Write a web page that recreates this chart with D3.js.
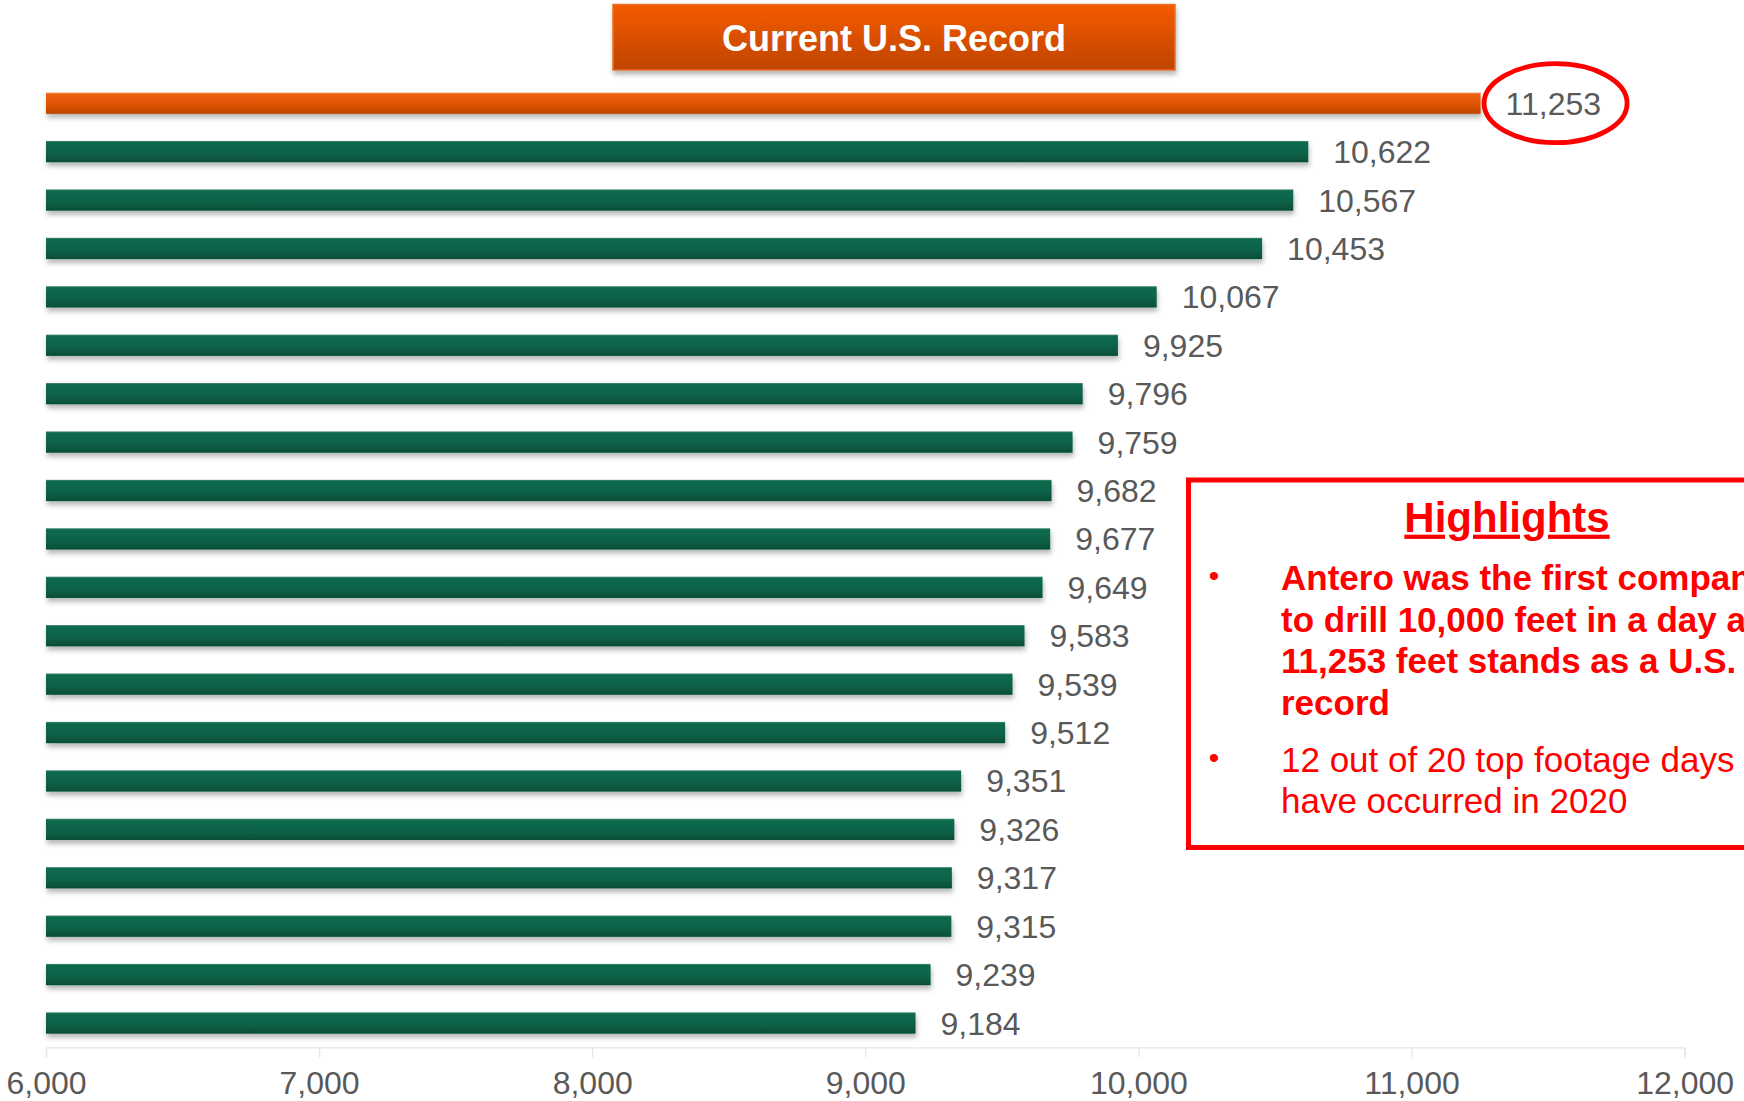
<!DOCTYPE html>
<html>
<head>
<meta charset="utf-8">
<script src="https://cdn.jsdelivr.net/npm/d3@7"></script>
<style>
  body { margin: 0; background: #fff; }
  svg { display: block; }
</style>
</head>
<body>
<script>
var w = 1744;
var h = 1101;

// top 20 footage days, highest first
var ranks = ["1", "2", "3", "4", "5", "6", "7", "8", "9", "10",
             "11", "12", "13", "14", "15", "16", "17", "18", "19", "20"];
var footage = [11253, 10622, 10567, 10453, 10067, 9925, 9796, 9759, 9682, 9677,
               9649, 9583, 9539, 9512, 9351, 9326, 9317, 9315, 9239, 9184];
var xTicks = [6000, 7000, 8000, 9000, 10000, 11000, 12000];

var titleText = "Current U.S. Record";
var boxTitle = "Highlights";
var boldLines = ["Antero was the first company", "to drill 10,000 feet in a day and",
                 "11,253 feet stands as a U.S.", "record"];
var plainLines = ["12 out of 20 top footage days", "have occurred in 2020"];

var xScale = d3.scaleLinear().domain([6000, 12000]).range([46, 1684.6]);
var yScale = d3.scaleBand().domain(ranks).range([79, 1047.2])
    .paddingInner(0.56).paddingOuter(0.28);

var svg = d3.select("body").append("svg")
    .attr("width", w)
    .attr("height", h);

var defs = svg.append("defs");

var gGreen = defs.append("linearGradient").attr("id", "gGreen")
    .attr("x1", 0).attr("y1", 0).attr("x2", 0).attr("y2", 1);
gGreen.append("stop").attr("offset", "0%").attr("stop-color", "#4f8a77");
gGreen.append("stop").attr("offset", "7%").attr("stop-color", "#0c6a4e");
gGreen.append("stop").attr("offset", "55%").attr("stop-color", "#0a6349");
gGreen.append("stop").attr("offset", "100%").attr("stop-color", "#064d37");

var gOrange = defs.append("linearGradient").attr("id", "gOrange")
    .attr("x1", 0).attr("y1", 0).attr("x2", 0).attr("y2", 1);
gOrange.append("stop").attr("offset", "0%").attr("stop-color", "#f2a27a");
gOrange.append("stop").attr("offset", "7%").attr("stop-color", "#ef600e");
gOrange.append("stop").attr("offset", "55%").attr("stop-color", "#dc5405");
gOrange.append("stop").attr("offset", "100%").attr("stop-color", "#c04400");

var gTitle = defs.append("linearGradient").attr("id", "gTitle")
    .attr("x1", 0).attr("y1", 0).attr("x2", 0).attr("y2", 1);
gTitle.append("stop").attr("offset", "0%").attr("stop-color", "#f55b00");
gTitle.append("stop").attr("offset", "100%").attr("stop-color", "#bf4400");

var shadow = defs.append("filter").attr("id", "shadow")
    .attr("x", "-5%").attr("y", "-50%").attr("width", "110%").attr("height", "250%");
shadow.append("feDropShadow")
    .attr("dx", 1).attr("dy", 4).attr("stdDeviation", 2.5)
    .attr("flood-color", "#000").attr("flood-opacity", 0.28);

// axis
var xAxis = d3.axisBottom(xScale)
    .tickValues(xTicks)
    .tickSize(10)
    .tickPadding(13.5)
    .tickFormat(d3.format(","));

var axisG = svg.append("g")
    .attr("transform", "translate(0,1047.3)")
    .call(xAxis);
axisG.select(".domain").attr("stroke", "#e6e6e6").attr("stroke-width", 1.3);
axisG.selectAll(".tick line").attr("stroke", "#e6e6e6").attr("stroke-width", 1.3);
axisG.selectAll(".tick text")
    .attr("fill", "#595959")
    .attr("font-family", "Liberation Sans, Arial, sans-serif")
    .attr("font-size", "32px");

// bars
svg.selectAll("rect.bar")
   .data(footage)
   .enter()
   .append("rect")
   .attr("class", "bar")
   .attr("x", xScale(6000))
   .attr("y", function(d, i) { return yScale(ranks[i]); })
   .attr("width", function(d) { return xScale(d) - xScale(6000); })
   .attr("height", yScale.bandwidth())
   .attr("fill", function(d, i) { return i === 0 ? "url(#gOrange)" : "url(#gGreen)"; })
   .attr("filter", "url(#shadow)");

// value labels
svg.selectAll("text.val")
   .data(footage)
   .enter()
   .append("text")
   .attr("class", "val")
   .text(function(d) { return d3.format(",")(d); })
   .attr("x", function(d) { return xScale(d) + 25; })
   .attr("y", function(d, i) { return yScale(ranks[i]) + yScale.bandwidth() / 2; })
   .attr("dy", "0.36em")
   .attr("font-family", "Liberation Sans, Arial, sans-serif")
   .attr("font-size", "32px")
   .attr("fill", "#595959");

// record circle
svg.append("ellipse")
   .attr("cx", xScale(footage[0]) + 75)
   .attr("cy", yScale(ranks[0]) + yScale.bandwidth() / 2)
   .attr("rx", 71.5)
   .attr("ry", 39.5)
   .attr("fill", "none")
   .attr("stroke", "#ff0000")
   .attr("stroke-width", 4.8);

// title box
svg.append("rect")
   .attr("x", 613).attr("y", 4.5)
   .attr("width", 562).attr("height", 65.5)
   .attr("fill", "url(#gTitle)")
   .attr("stroke", "#e8702a")
   .attr("stroke-width", 1.5)
   .attr("filter", "url(#shadow)");
svg.append("text")
   .text(titleText)
   .attr("x", 894).attr("y", 50.5)
   .attr("text-anchor", "middle")
   .attr("font-family", "Liberation Sans, Arial, sans-serif")
   .attr("font-weight", "bold")
   .attr("font-size", "36px")
   .attr("fill", "#fff");

// highlights box
svg.append("rect")
   .attr("x", 1188.5).attr("y", 480)
   .attr("width", 700).attr("height", 367.5)
   .attr("fill", "#fff")
   .attr("stroke", "#ff0000")
   .attr("stroke-width", 5);

svg.append("text")
   .text(boxTitle)
   .attr("x", 1507).attr("y", 531.7)
   .attr("text-anchor", "middle")
   .attr("font-family", "Liberation Sans, Arial, sans-serif")
   .attr("font-weight", "bold")
   .attr("font-size", "42px")
   .attr("text-decoration", "underline")
   .attr("fill", "#ff0000");

svg.selectAll("text.bold")
   .data(boldLines)
   .enter()
   .append("text")
   .attr("class", "bold")
   .text(function(d) { return d; })
   .attr("x", 1281)
   .attr("y", function(d, i) { return 590 + i * 41.7; })
   .attr("font-family", "Liberation Sans, Arial, sans-serif")
   .attr("font-weight", "bold")
   .attr("font-size", "35px")
   .attr("fill", "#ff0000");

svg.selectAll("text.plain")
   .data(plainLines)
   .enter()
   .append("text")
   .attr("class", "plain")
   .text(function(d) { return d; })
   .attr("x", 1281)
   .attr("y", function(d, i) { return 771.7 + i * 41.7; })
   .attr("font-family", "Liberation Sans, Arial, sans-serif")
   .attr("font-size", "35px")
   .attr("fill", "#ff0000");

svg.selectAll("text.bullet")
   .data([590, 771.7])
   .enter()
   .append("text")
   .attr("class", "bullet")
   .text("\u2022")
   .attr("x", 1214)
   .attr("y", function(d) { return d - 4; })
   .attr("text-anchor", "middle")
   .attr("font-family", "Liberation Sans, Arial, sans-serif")
   .attr("font-size", "30px")
   .attr("fill", "#ff0000");
</script>
</body>
</html>
